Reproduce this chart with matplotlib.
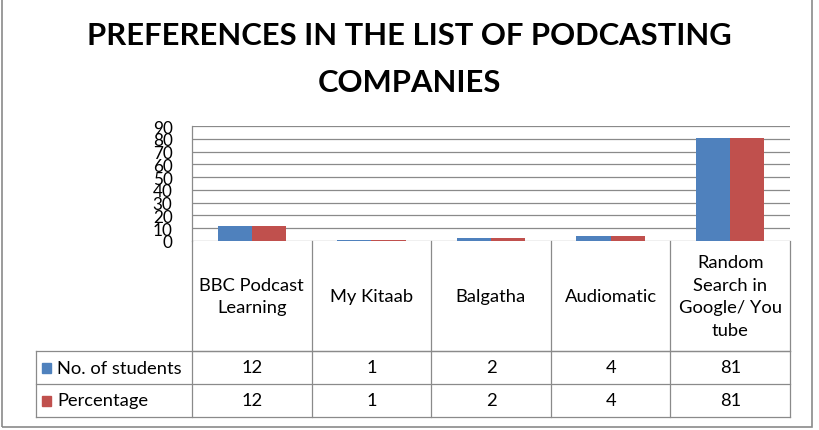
import matplotlib.pyplot as plt
from matplotlib.transforms import blended_transform_factory
from matplotlib.patches import Rectangle

plt.rcParams['font.family'] = ['Lato', 'DejaVu Sans']

categories = ['BBC Podcast\nLearning', 'My Kitaab', 'Balgatha', 'Audiomatic',
              'Random\nSearch in\nGoogle/ You\ntube']
students = [12, 1, 2, 4, 81]
percentage = [12, 1, 2, 4, 81]
series_names = ['No. of students', 'Percentage']
colors = ['#4F81BD', '#C0504D']
yticks = list(range(0, 100, 10))

W, H = 820, 431
fig = plt.figure(figsize=(W / 100, H / 100), dpi=100)

# plot area in pixels: x 192..790, y 127..242
px_l, px_r, px_t, px_b = 192, 790, 127, 242
ax = fig.add_axes([px_l / W, 1 - px_b / H, (px_r - px_l) / W, (px_b - px_t) / H])

n = len(categories)
x = list(range(n))
bw = 1 / 3.5  # gap width 150%
ax.bar([i - bw / 2 for i in x], students, width=bw, color=colors[0], zorder=3)
ax.bar([i + bw / 2 for i in x], percentage, width=bw, color=colors[1], zorder=3)

ax.set_xlim(-0.5, n - 0.5)
ax.set_ylim(0, 90)
ax.set_yticks(yticks)
ax.set_yticklabels([str(t) for t in yticks], fontsize=12.3)
ax.tick_params(axis='y', length=0, pad=14)
ax.set_xticks([])
ax.grid(axis='y', color='#8a8a8a', linewidth=0.9, zorder=0)
for s in ['top', 'right', 'bottom']:
    ax.spines[s].set_visible(False)
ax.spines['left'].set_color('#8a8a8a')
ax.spines['left'].set_linewidth(0.9)

# data table below the plot
tr = blended_transform_factory(ax.transData, ax.transAxes)
ph = px_b - px_t


def ya(ypx):
    return (px_b - ypx) / ph


lc = '#8a8a8a'
lw = 0.9
fs = 13.2
row_edges = [242, 352, 385, 418]
leg_left = -0.5 - (px_l - 36) / ((px_r - px_l) / n)

# vertical lines of header + value rows
for i in range(n + 1):
    ax.plot([i - 0.5, i - 0.5], [ya(242), ya(418)], color=lc, lw=lw,
            transform=tr, clip_on=False)
# horizontal lines
ax.plot([-0.5, n - 0.5], [ya(352)] * 2, color=lc, lw=lw, transform=tr, clip_on=False)
for y in row_edges[1:]:
    ax.plot([leg_left, n - 0.5], [ya(y)] * 2, color=lc, lw=lw, transform=tr, clip_on=False)
ax.plot([leg_left, leg_left], [ya(352), ya(418)], color=lc, lw=lw, transform=tr, clip_on=False)

for i, c in enumerate(categories):
    ax.text(i, ya(297), c, ha='center', va='center', fontsize=fs, linespacing=1.52,
            transform=tr, clip_on=False)

rows = [students, percentage]
for r, vals in enumerate(rows):
    yc = ya((row_edges[r + 1] + row_edges[r + 2]) / 2)
    for i, v in enumerate(vals):
        ax.text(i, yc, str(v), ha='center', va='center', fontsize=fs,
                transform=tr, clip_on=False)
    fig.patches.append(Rectangle((42 / W, 1 - ((row_edges[r + 1] + row_edges[r + 2]) / 2 + 5) / H),
                                 9 / W, 10 / H, color=colors[r], transform=fig.transFigure))
    fig.text(57 / W, 1 - (row_edges[r + 1] + row_edges[r + 2]) / 2 / H, series_names[r],
             ha='left', va='center', fontsize=fs)

# title
fig.text(409 / W, 1 - 36 / H, 'PREFERENCES IN THE LIST OF PODCASTING', ha='center', va='center',
         fontsize=22.3, fontweight='bold')
fig.text(409 / W, 1 - 83 / H, 'COMPANIES', ha='center', va='center',
         fontsize=22.3, fontweight='bold')

# chart frame
fig.patches.append(Rectangle((2 / W, 1 - 428 / H), 810 / W, 440 / H, fill=False,
                             edgecolor='#8a8a8a', linewidth=1.2, transform=fig.transFigure))

fig.savefig('out.png', dpi=100)
